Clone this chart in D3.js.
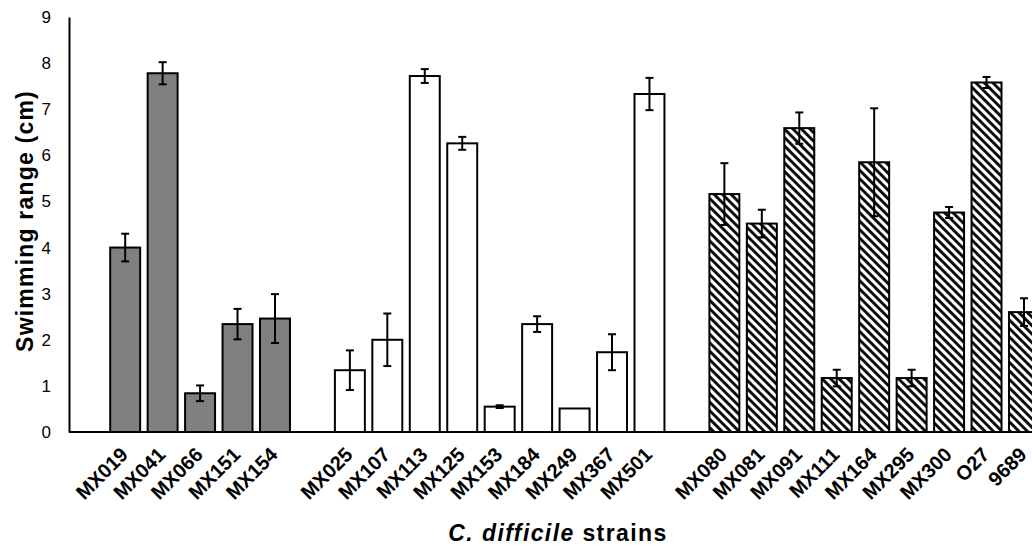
<!DOCTYPE html>
<html>
<head>
<meta charset="utf-8">
<script src="https://cdn.jsdelivr.net/npm/d3@7"></script>
<style>
  body { margin: 0; background: #fff; }
  svg { display: block; font-family: "Liberation Sans", Arial, sans-serif; }
</style>
</head>
<body>
<div id="chart"></div>
<script>
// strains per group, blank slots keep the gaps between groups
const groupA = ["MX019", "MX041", "MX066", "MX151", "MX154"];
const groupB = ["MX025", "MX107", "MX113", "MX125", "MX153", "MX184", "MX249", "MX367", "MX501"];
const groupC = ["MX080", "MX081", "MX091", "MX111", "MX164", "MX295", "MX300", "O27", "9689"];

// swimming range (cm) and error
const valuesA = [4.0, 7.78, 0.84, 2.34, 2.46];
const errorsA = [0.3, 0.24, 0.17, 0.33, 0.53];
const valuesB = [1.34, 2.0, 7.72, 6.26, 0.55, 2.34, 0.51, 1.73, 7.33];
const errorsB = [0.43, 0.57, 0.15, 0.14, 0.03, 0.17, 0, 0.39, 0.35];
const valuesC = [5.16, 4.52, 6.59, 1.17, 5.85, 1.17, 4.76, 7.58, 2.6];
const errorsC = [0.67, 0.3, 0.34, 0.18, 1.17, 0.18, 0.12, 0.12, 0.3];

const yTicks = [0, 1, 2, 3, 4, 5, 6, 7, 8, 9];

const rows = [];
groupA.forEach((s, i) => rows.push({ strain: s, value: valuesA[i], err: errorsA[i], group: "A" }));
groupB.forEach((s, i) => rows.push({ strain: s, value: valuesB[i], err: errorsB[i], group: "B" }));
groupC.forEach((s, i) => rows.push({ strain: s, value: valuesC[i], err: errorsC[i], group: "C" }));

const slots = ["_0"].concat(groupA, ["_1"], groupB, ["_2"], groupC);

const width = 1032, height = 546;
const plotLeft = 69, plotTop = 17, plotBottom = 432;

const svg = d3.select("#chart")
  .append("svg")
  .attr("width", width)
  .attr("height", height);

// diagonal hatch for the third group
const pat = svg.append("defs").append("pattern")
  .attr("id", "hatch")
  .attr("patternUnits", "userSpaceOnUse")
  .attr("width", 6)
  .attr("height", 6)
  .attr("patternTransform", "rotate(-45)");
pat.append("rect").attr("width", 6).attr("height", 6).attr("fill", "#fff");
pat.append("line")
  .attr("x1", 1.5).attr("y1", 0).attr("x2", 1.5).attr("y2", 6)
  .attr("stroke", "#000").attr("stroke-width", 2.8);

const x = d3.scaleBand()
  .domain(slots)
  .range([plotLeft, plotLeft + slots.length * 37.45])
  .paddingInner(0.2)
  .paddingOuter(0.1);

const y = d3.scaleLinear()
  .domain([0, 9])
  .range([plotBottom, plotTop]);

const fills = { A: "#808080", B: "#fff", C: "url(#hatch)" };

svg.selectAll(".bar")
  .data(rows)
  .enter()
  .append("rect")
  .attr("class", "bar")
  .attr("x", d => x(d.strain))
  .attr("y", d => y(d.value))
  .attr("width", x.bandwidth())
  .attr("height", d => plotBottom - y(d.value))
  .attr("fill", d => fills[d.group])
  .attr("stroke", "#000")
  .attr("stroke-width", 2);

// error bars
const eb = svg.selectAll(".err")
  .data(rows.filter(d => d.err > 0))
  .enter()
  .append("g")
  .attr("class", "err")
  .attr("stroke", "#000")
  .attr("stroke-width", 2);
const cx = d => x(d.strain) + x.bandwidth() / 2;
eb.append("line")
  .attr("x1", cx).attr("x2", cx)
  .attr("y1", d => y(d.value + d.err))
  .attr("y2", d => y(d.value - d.err));
eb.append("line")
  .attr("x1", d => cx(d) - 4).attr("x2", d => cx(d) + 4)
  .attr("y1", d => y(d.value + d.err))
  .attr("y2", d => y(d.value + d.err));
eb.append("line")
  .attr("x1", d => cx(d) - 4).attr("x2", d => cx(d) + 4)
  .attr("y1", d => y(d.value - d.err))
  .attr("y2", d => y(d.value - d.err));

// y axis
const yAxis = svg.append("g")
  .attr("transform", `translate(${plotLeft},0)`)
  .call(d3.axisLeft(y).tickValues(yTicks).tickSize(0).tickPadding(18));
yAxis.select(".domain").attr("stroke", "#000").attr("stroke-width", 2);
yAxis.selectAll("text")
  .style("font-size", "17px")
  .style("font-family", "Liberation Sans, Arial, sans-serif")
  .attr("fill", "#000");

// x axis line only, labels drawn below
const xAxis = svg.append("g")
  .attr("transform", `translate(0,${plotBottom})`)
  .call(d3.axisBottom(x).tickSize(0).tickFormat(""));
xAxis.select(".domain")
  .attr("d", `M${plotLeft},0H${width + 5}`)
  .attr("stroke", "#000").attr("stroke-width", 2);

// rotated strain labels
svg.append("g")
  .selectAll("text")
  .data(rows)
  .join("text")
  .attr("transform", d => `translate(${cx(d) + 4},${plotBottom + 24}) rotate(-45)`)
  .attr("text-anchor", "end")
  .style("font-size", "20px")
  .style("font-weight", "bold")
  .attr("fill", "#000")
  .text(d => d.strain);

// axis titles
svg.append("text")
  .attr("transform", `translate(33,${(90 + 352) / 2}) rotate(-90)`)
  .attr("text-anchor", "middle")
  .style("font-size", "23px")
  .style("font-weight", "bold")
  .style("letter-spacing", "1.2px")
  .text("Swimming range (cm)");

const xt = svg.append("text")
  .attr("x", 558)
  .attr("y", 541)
  .attr("text-anchor", "middle")
  .style("font-size", "23px")
  .style("font-weight", "bold")
  .style("letter-spacing", "1.4px");
xt.append("tspan").style("font-style", "italic").text("C. difficile");
xt.append("tspan").text(" strains");
</script>
</body>
</html>
